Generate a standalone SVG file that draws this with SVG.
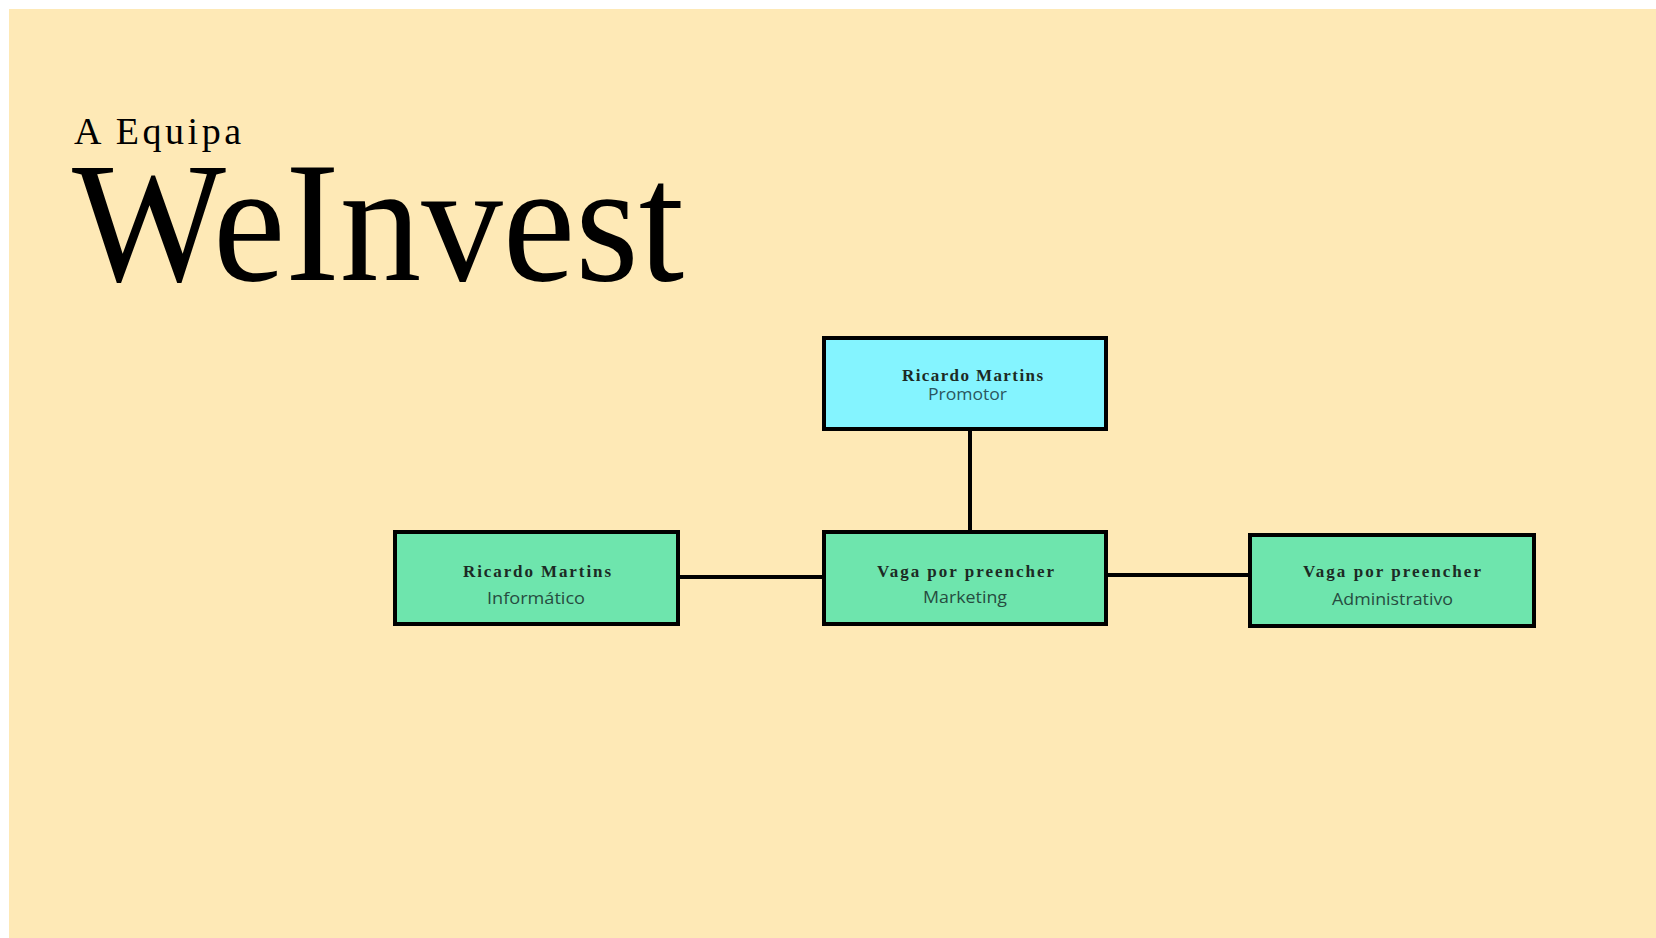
<svg xmlns="http://www.w3.org/2000/svg" width="1656" height="938" viewBox="0 0 1656 938">
  <style>
    .box { stroke: #000; stroke-width: 4; }
    .cyan { fill: #84f4ff; }
    .green { fill: #6ee5ad; }
    .name { font-family: "Liberation Serif", "DejaVu Serif", serif; font-weight: bold; font-size: 17px; fill: #1c2a24; }
    .role { font-family: "Open Sans", "Liberation Sans", sans-serif; font-size: 16.5px; fill: #264c40; }
    .role-c { fill: #2a5660; }
    .conn { stroke: #000; stroke-width: 4; fill: none; }
    .title { font-family: "Liberation Serif", "DejaVu Serif", serif; fill: #000; }
  </style>
  <rect x="0" y="0" width="1656" height="938" fill="#ffffff"/>
  <rect x="9" y="9" width="1647" height="929" fill="#fee9b6"/>

  <g id="title">
    <text class="title" x="74" y="144" font-size="38" textLength="167" lengthAdjust="spacing">A Equipa</text>
    <text class="title" x="72" y="280" font-size="172" textLength="612" lengthAdjust="spacingAndGlyphs">WeInvest</text>
  </g>

  <g id="connectors">
    <line class="conn" x1="970" y1="431" x2="970" y2="532"/>
    <line class="conn" x1="678" y1="577" x2="824" y2="577"/>
    <line class="conn" x1="1106" y1="575" x2="1250" y2="575"/>
  </g>

  <g id="node-promotor">
    <rect class="box cyan" x="824" y="338" width="282" height="91"/>
    <text class="name" x="902" y="381" textLength="141" lengthAdjust="spacing">Ricardo Martins</text>
    <text class="role role-c" x="928" y="400" textLength="79" lengthAdjust="spacingAndGlyphs">Promotor</text>
  </g>

  <g id="node-informatico">
    <rect class="box green" x="395" y="532" width="283" height="92"/>
    <text class="name" x="463" y="577" textLength="148" lengthAdjust="spacing">Ricardo Martins</text>
    <text class="role" x="487" y="604" textLength="98" lengthAdjust="spacingAndGlyphs">Informático</text>
  </g>

  <g id="node-marketing">
    <rect class="box green" x="824" y="532" width="282" height="92"/>
    <text class="name" x="877" y="577" textLength="177" lengthAdjust="spacing">Vaga por preencher</text>
    <text class="role" x="923" y="603" textLength="84" lengthAdjust="spacingAndGlyphs">Marketing</text>
  </g>

  <g id="node-administrativo">
    <rect class="box green" x="1250" y="535" width="284" height="91"/>
    <text class="name" x="1303" y="577" textLength="178" lengthAdjust="spacing">Vaga por preencher</text>
    <text class="role" x="1332" y="605" textLength="121" lengthAdjust="spacingAndGlyphs">Administrativo</text>
  </g>
</svg>
